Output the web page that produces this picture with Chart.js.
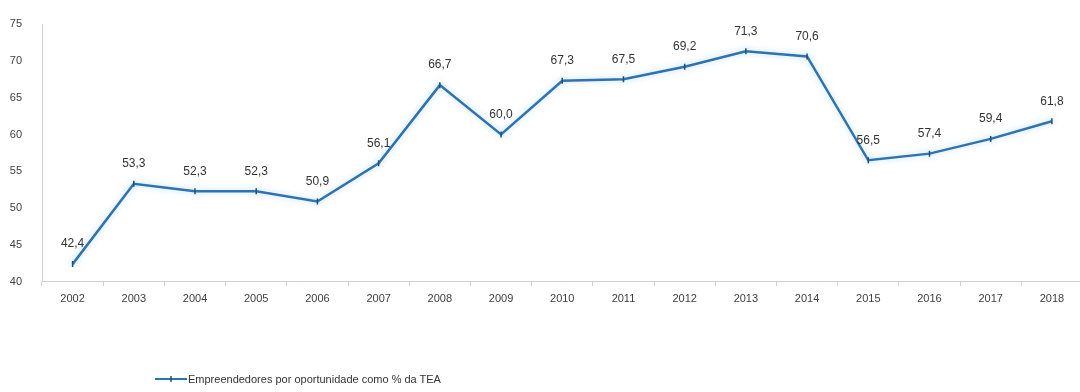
<!DOCTYPE html>
<html>
<head>
<meta charset="utf-8">
<script src="https://cdn.jsdelivr.net/npm/chart.js@4"></script>
<style>
  html, body { margin: 0; padding: 0; background: #fff; overflow: hidden; }
  #wrap { position: relative; width: 1088px; height: 392px; }
  #legend {
    position: absolute; left: 155px; top: 373px;
    font: 11px "Liberation Sans", Arial, sans-serif; color: #333;
    display: flex; align-items: center; white-space: nowrap;
  }
  #legend svg { margin-right: 1px; }
</style>
</head>
<body>
<div id="wrap">
  <canvas id="chart" width="1088" height="392"></canvas>
  <div id="legend">
    <svg width="32" height="10"><line x1="0" y1="5" x2="32" y2="5" stroke="#2E72B0" stroke-width="2"/><line x1="16" y1="2" x2="16" y2="8" stroke="#1F4E79" stroke-width="1.5"/></svg>
    <span>Empreendedores por oportunidade como % da TEA</span>
  </div>
</div>
<script>
// ── Data ─────────────────────────────────────────────────
const years  = ['2002','2003','2004','2005','2006','2007','2008','2009','2010',
                '2011','2012','2013','2014','2015','2016','2017','2018'];
const values = [42.4, 53.3, 52.3, 52.3, 50.9, 56.1, 66.7, 60.0, 67.3,
                67.5, 69.2, 71.3, 70.6, 56.5, 57.4, 59.4, 61.8];
const seriesName = 'Empreendedores por oportunidade como % da TEA';

const fmt = v => v.toFixed(1).replace('.', ',');

// soft glow under the line
const glowPlugin = {
  id: 'glow',
  beforeDatasetDraw(chart) {
    const ctx = chart.ctx;
    ctx.save();
    ctx.shadowColor = 'rgba(120,190,240,0.55)';
    ctx.shadowBlur = 6;
  },
  afterDatasetDraw(chart) {
    chart.ctx.restore();
  }
};

// value labels above each point
const labelPlugin = {
  id: 'valueLabels',
  afterDatasetsDraw(chart) {
    const ctx  = chart.ctx;
    const meta = chart.getDatasetMeta(0);
    ctx.save();
    ctx.font = '12px "Liberation Sans", Arial, sans-serif';
    ctx.fillStyle = '#333';
    ctx.textAlign = 'center';
    ctx.textBaseline = 'middle';
    meta.data.forEach((pt, i) => {
      ctx.fillText(fmt(values[i]), pt.x, pt.y - 20);
    });
    ctx.restore();
  }
};

new Chart(document.getElementById('chart'), {
  type: 'line',
  data: {
    labels: years,
    datasets: [{
      label: seriesName,
      data: values,
      borderColor: '#2E72B0',
      borderWidth: 2.5,
      tension: 0,
      pointStyle: 'line',
      rotation: 90,
      pointRadius: 3,
      pointBorderWidth: 1.5,
      pointBorderColor: '#1F4E79',
      pointBackgroundColor: '#1F4E79'
    }]
  },
  options: {
    responsive: false,
    animation: false,
    layout: { padding: { top: 24, left: 6, right: 0, bottom: 79 } },
    plugins: {
      legend: { display: false },
      tooltip: { enabled: false }
    },
    scales: {
      x: {
        offset: true,
        grid: {
          display: true, drawOnChartArea: false, offset: true,
          tickLength: 4, color: '#d0d0d0'
        },
        border: { color: '#d0d0d0' },
        ticks: {
          color: '#404040', padding: 7, maxRotation: 0,
          font: { family: '"Liberation Sans", Arial, sans-serif', size: 11 }
        }
      },
      y: {
        min: 40, max: 75,
        grid: { display: false },
        border: { color: '#d0d0d0' },
        afterFit: axis => { axis.width = 36; },
        ticks: {
          stepSize: 5, color: '#404040', padding: 12,
          font: { family: '"Liberation Sans", Arial, sans-serif', size: 11 }
        }
      }
    }
  },
  plugins: [glowPlugin, labelPlugin]
});
</script>
</body>
</html>
